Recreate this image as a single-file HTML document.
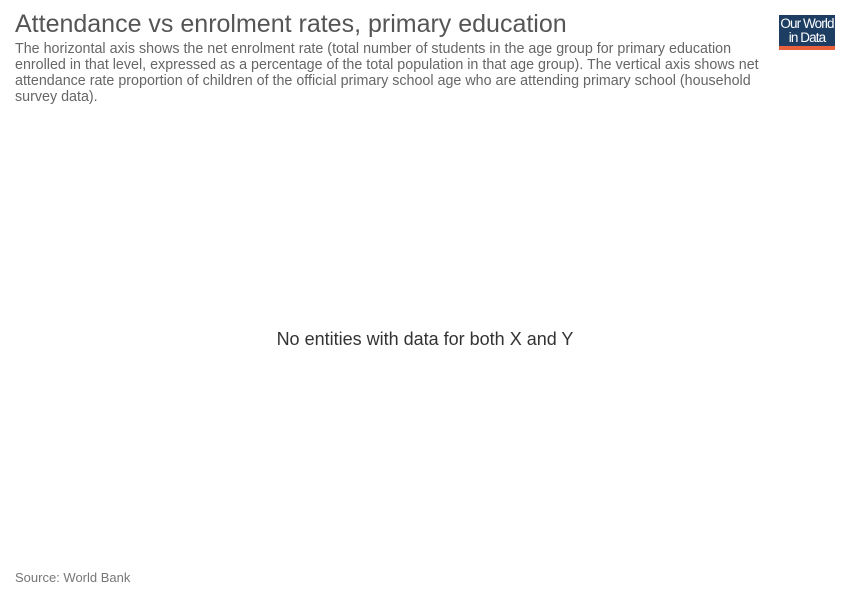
<!DOCTYPE html>
<html><head><meta charset="utf-8"><style>
body{margin:0;width:850px;height:600px;background:#fff;font-family:"Liberation Sans",sans-serif;position:relative;overflow:hidden}
#title{position:absolute;left:15px;top:10px;font-size:25px;color:#555;margin:0;font-weight:normal;white-space:nowrap}
#sub{position:absolute;left:15px;top:41px;width:765px;font-size:14.3px;line-height:16px;color:#666}
#logo{position:absolute;left:779px;top:15px;width:56px;height:35px;background:#1d3d63}
#logo .t{color:#fff;font-size:13.5px;line-height:14px;text-align:center;padding-top:2px;letter-spacing:-0.9px;white-space:nowrap}
#logo .b{position:absolute;left:0;bottom:0;width:56px;height:4px;background:#e8603c}
#msg{position:absolute;left:0;width:850px;top:329px;text-align:center;font-size:18px;color:#333}
#src{position:absolute;left:15px;top:570px;font-size:13px;color:#777}
</style></head><body>
<h1 id="title">Attendance vs enrolment rates, primary education</h1>
<div id="sub">The horizontal axis shows the net enrolment rate (total number of students in the age group for primary education enrolled in that level, expressed as a percentage of the total population in that age group). The vertical axis shows net attendance rate proportion of children of the official primary school age who are attending primary school (household survey data).</div>
<div id="logo"><div class="t">Our World<br>in Data</div><div class="b"></div></div>
<div id="msg">No entities with data for both X and Y</div>
<div id="src">Source: World Bank</div>
</body></html>
